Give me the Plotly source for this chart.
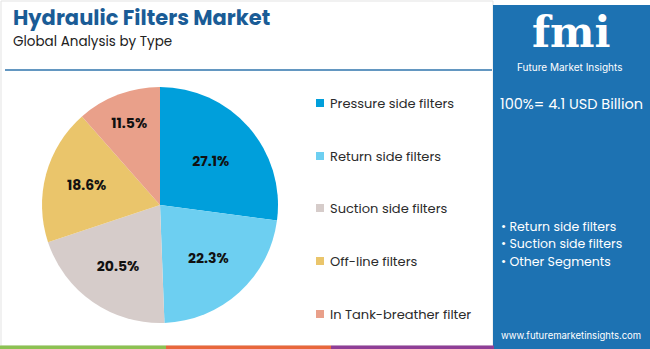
import plotly.graph_objects as go

categories = ["Pressure side filters", "Return side filters", "Suction side filters",
              "Off-line filters", "In Tank-breather filter"]
shares = [27.1, 22.3, 20.5, 18.6, 11.5]
colors = ["#009FDB", "#6DCFF1", "#D6CCCA", "#EAC56B", "#E9A08A"]
bullets = ["• Return side filters", "• Suction side filters", "• Other Segments"]
total_text = "100%= 4.1 USD Billion"

W, H = 650, 349
def px(x): return x / W
def py(y): return 1 - y / H

fig = go.Figure()
cx, cy, r = 160, 205, 118
fig.add_trace(go.Pie(
    labels=categories, values=shares, sort=False, direction="clockwise", rotation=0,
    marker=dict(colors=colors, line=dict(width=0)),
    texttemplate="%{value:.1f}%", textposition="inside", insidetextorientation="horizontal",
    textfont=dict(family="Poppins, Inter, Arial", size=14, color="#111111", weight="bold"),
    domain=dict(x=[px(cx - r), px(cx + r)], y=[py(cy + r), py(cy - r)]),
    showlegend=False, hoverinfo="label+percent",
))

shapes = []
annotations = []
shapes.append(dict(type="rect", xref="paper", yref="paper", x0=px(1), x1=px(493), y0=py(346), y1=py(1),
                   line=dict(color="#E3E3E3", width=1), fillcolor="rgba(0,0,0,0)", layer="below"))
shapes.append(dict(type="line", xref="paper", yref="paper", x0=px(5), x1=px(492), y0=py(70), y1=py(70),
                   line=dict(color="#2F74AC", width=1.5)))
shapes.append(dict(type="rect", xref="paper", yref="paper", x0=px(493), x1=px(650), y0=py(349), y1=py(5),
                   line=dict(width=0), fillcolor="#1D72B2", layer="below"))
for x0, x1, c in [(0, 166, "#8CC152"), (166, 331, "#E8673C"), (331, 494, "#8E3E96")]:
    shapes.append(dict(type="rect", xref="paper", yref="paper", x0=px(x0), x1=px(x1), y0=py(349), y1=py(345.5),
                       line=dict(width=0), fillcolor=c))

leg_y = [103, 156, 208, 261, 314]
for cat, col, y in zip(categories, colors, leg_y):
    shapes.append(dict(type="rect", xref="paper", yref="paper", x0=px(316), x1=px(324), y0=py(y + 4), y1=py(y - 4),
                       line=dict(width=0), fillcolor=col))
    annotations.append(dict(text=cat, x=px(328), y=py(y), xref="paper", yref="paper", xanchor="left",
                            yanchor="middle", showarrow=False,
                            font=dict(family="Poppins, Inter, Arial", size=13, color="#2B2B2B")))

annotations.append(dict(text="<b>Hydraulic Filters Market</b>", x=px(11), y=py(17), xref="paper", yref="paper",
                        xanchor="left", yanchor="middle", showarrow=False,
                        font=dict(family="Poppins, Inter, Arial", size=21, color="#1A5C96")))
annotations.append(dict(text="Global Analysis by Type", x=px(11), y=py(42), xref="paper", yref="paper",
                        xanchor="left", yanchor="middle", showarrow=False,
                        font=dict(family="Poppins, Inter, Arial", size=13.5, color="#222222")))

annotations.append(dict(text="<b>fmi</b>", x=px(571), y=py(32), xref="paper", yref="paper",
                        xanchor="center", yanchor="middle", showarrow=False,
                        font=dict(family="DejaVu Serif, serif", size=42, color="white")))
annotations.append(dict(text="Future Market Insights", x=px(569), y=py(67), xref="paper", yref="paper",
                        xanchor="center", yanchor="middle", showarrow=False,
                        font=dict(family="Inter, Arial", size=10, color="white")))
annotations.append(dict(text=total_text, x=px(571), y=py(104), xref="paper", yref="paper",
                        xanchor="center", yanchor="middle", showarrow=False,
                        font=dict(family="Poppins, Inter, Arial", size=14.5, color="white")))
for i, b in enumerate(bullets):
    annotations.append(dict(text=b, x=px(499), y=py(226 + 17.5 * i), xref="paper", yref="paper",
                            xanchor="left", yanchor="middle", showarrow=False,
                            font=dict(family="Poppins, Inter, Arial", size=12.5, color="white")))
annotations.append(dict(text="www.futuremarketinsights.com", x=px(571), y=py(335), xref="paper", yref="paper",
                        xanchor="center", yanchor="middle", showarrow=False,
                        font=dict(family="Inter, Arial", size=9.5, color="white")))

fig.update_layout(width=W, height=H, margin=dict(l=0, r=0, t=0, b=0),
                  paper_bgcolor="white", plot_bgcolor="white",
                  shapes=shapes, annotations=annotations)
fig.write_html("out.html")
